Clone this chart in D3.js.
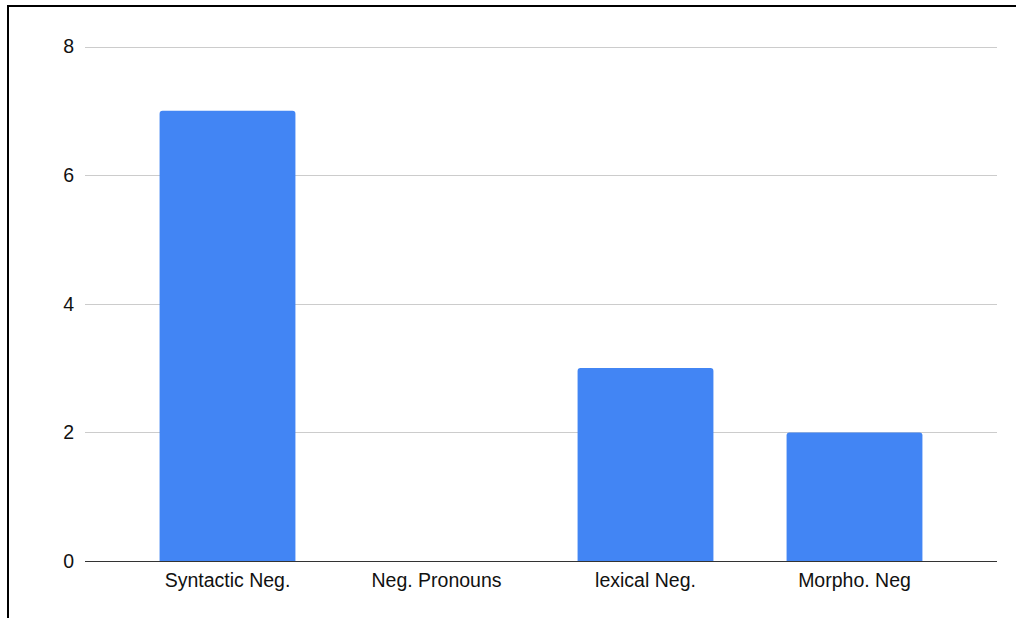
<!DOCTYPE html>
<html>
<head>
<meta charset="utf-8">
<script src="https://cdn.jsdelivr.net/npm/d3@7"></script>
<style>
  body { margin: 0; background: #fff; }
  text { font-family: "Liberation Sans", Arial, sans-serif; }
</style>
</head>
<body>
<script>
// data
var categories = ['Syntactic Neg.', 'Neg. Pronouns', 'lexical Neg.', 'Morpho. Neg'];
var values = [7, 0, 3, 2];
var yTicks = [0, 2, 4, 6, 8];

var W = 1016, H = 618;

var svg = d3.select('body').append('svg')
  .attr('width', W)
  .attr('height', H);

// frame (only top and left visible)
svg.append('line').attr('x1', 8).attr('x2', W).attr('y1', 6).attr('y2', 6)
  .style('stroke', '#000').style('stroke-width', 2);
svg.append('line').attr('x1', 8).attr('x2', 8).attr('y1', 5).attr('y2', H)
  .style('stroke', '#000').style('stroke-width', 2);

var xScale = d3.scaleBand().domain(categories).range([123, 959])
  .paddingInner(0.35).paddingOuter(0.175);
var yScale = d3.scaleLinear().domain([0, 8]).range([561, 46.5]);

// gridlines
svg.append('g')
  .selectAll('line')
  .data(yTicks.filter(d => d > 0))
  .enter().append('line')
  .attr('x1', 85).attr('x2', 997)
  .attr('y1', d => Math.round(yScale(d)) + 0.5)
  .attr('y2', d => Math.round(yScale(d)) + 0.5)
  .style('stroke', '#cccccc');

// y tick labels
svg.append('g')
  .selectAll('text')
  .data(yTicks)
  .enter().append('text')
  .text(d => d)
  .attr('x', 74)
  .attr('y', d => yScale(d))
  .attr('dy', '0.35em')
  .attr('text-anchor', 'end')
  .style('font-size', '19.5px')
  .style('fill', '#111');

// bars with rounded top
function barPath(x, y, w, h, r) {
  if (h <= 0) return '';
  r = Math.min(r, h);
  return 'M' + x + ',' + (y + h) + 'V' + (y + r) + 'Q' + x + ',' + y + ' ' + (x + r) + ',' + y +
    'H' + (x + w - r) + 'Q' + (x + w) + ',' + y + ' ' + (x + w) + ',' + (y + r) + 'V' + (y + h) + 'Z';
}

svg.append('g')
  .selectAll('path')
  .data(categories)
  .enter().append('path')
  .attr('d', (d, i) => barPath(xScale(d), yScale(values[i]), xScale.bandwidth(), yScale(0) - yScale(values[i]), 3))
  .style('fill', '#4285f4');

// baseline
svg.append('line')
  .attr('x1', 85).attr('x2', 997)
  .attr('y1', Math.round(yScale(0)) + 0.5).attr('y2', Math.round(yScale(0)) + 0.5)
  .style('stroke', '#333');

// x labels
svg.append('g')
  .selectAll('text')
  .data(categories)
  .enter().append('text')
  .text(d => d)
  .attr('x', d => xScale(d) + xScale.bandwidth() / 2)
  .attr('y', 587)
  .attr('text-anchor', 'middle')
  .style('font-size', '19.5px')
  .style('fill', '#111');
</script>
</body>
</html>
